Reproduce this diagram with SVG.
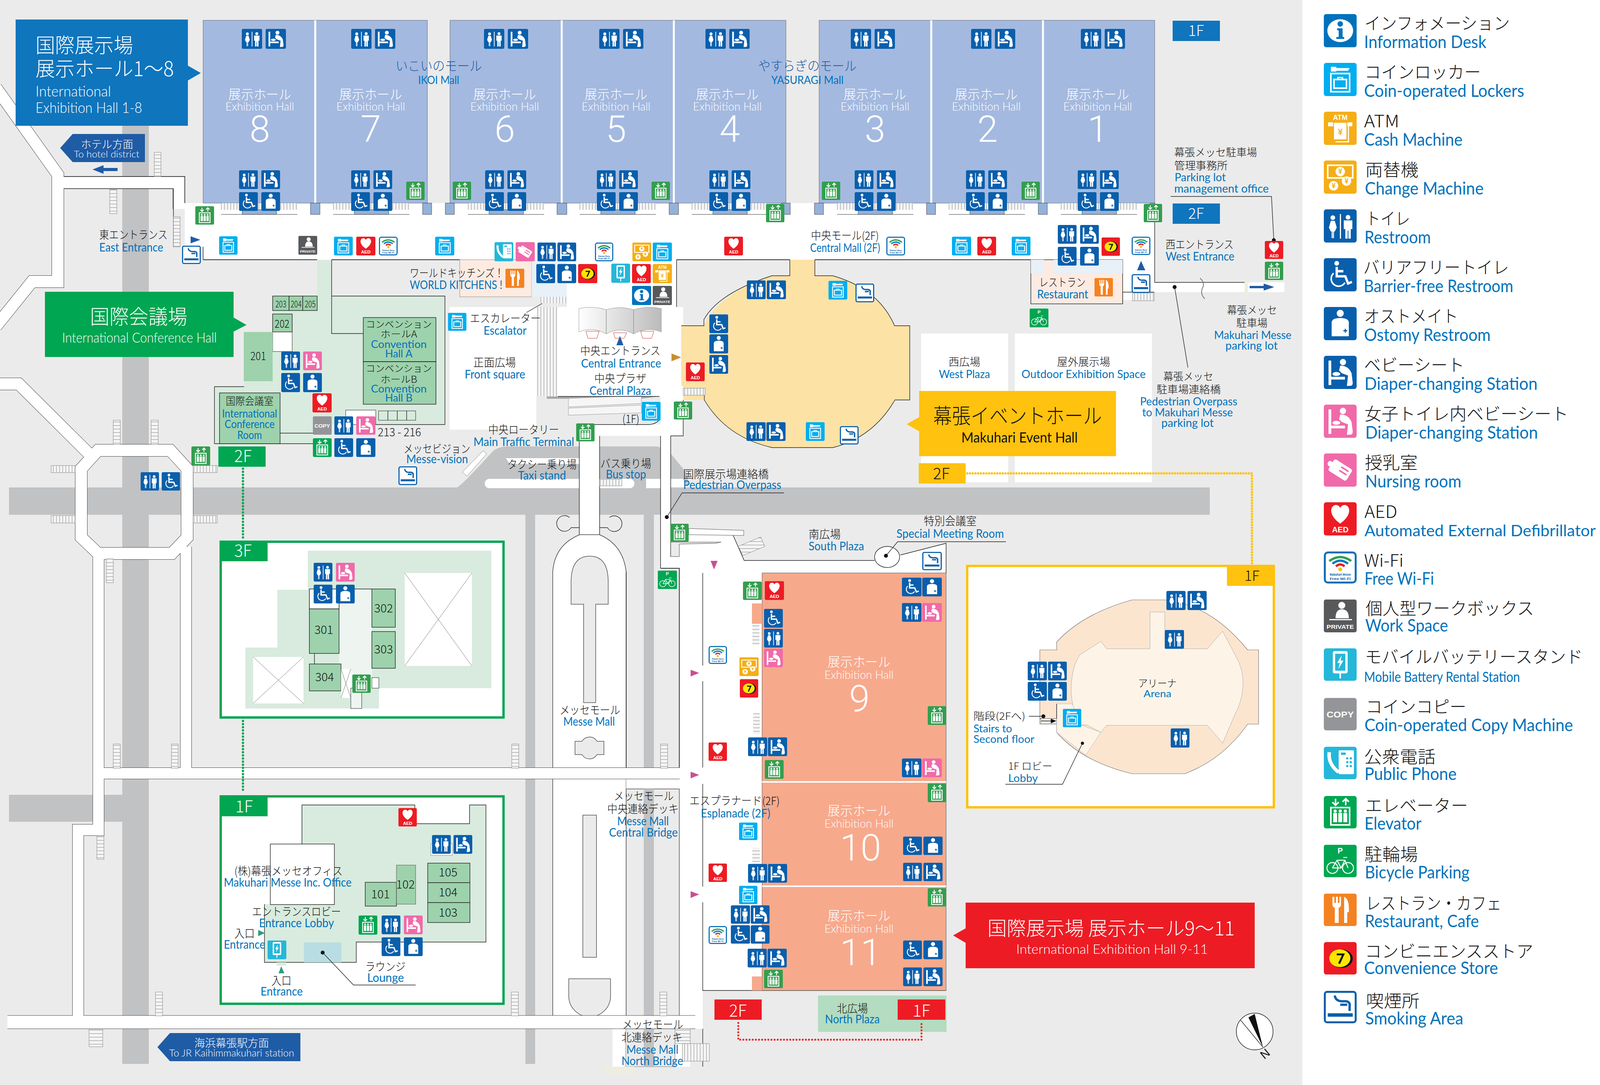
<svg xmlns="http://www.w3.org/2000/svg" width="4167" height="2778" viewBox="0 0 4167 2778">
<style>
svg{color:#339e4f}
text{font-family:"Noto Sans CJK JP","Noto Sans",sans-serif}
.j{fill:#111;font-weight:300}
.e{fill:#0072bc;font-family:"Lato","Noto Sans CJK JP",sans-serif}
.w{fill:#fff;font-weight:300}
.we{fill:#fff;font-family:"Lato","Noto Sans CJK JP",sans-serif;font-weight:300}
.n{font-family:"Roboto",sans-serif;font-weight:300;fill:#fff}
.m{text-anchor:middle}
.g{color:#00a651}
.hall{fill:#a4b9df;stroke:#667;stroke-width:1}
.pl{fill:#94b2d9;stroke:#445;stroke-width:1}
.lad{stroke:#999;stroke-width:1.2}
.sh{fill:url(#sh)}
.sv{fill:url(#sv)}
.room{fill:#9dd2ac;stroke:#222;stroke-width:1.4}
.ln{fill:none;stroke:#222;stroke-width:1.4}
.wall{fill:none;stroke:#333;stroke-width:2}
.rdo{fill:none;stroke:#444;stroke-linejoin:miter}
.rdw{fill:none;stroke:#fff;stroke-linejoin:miter}
.dot{fill:#111}
.x{stroke:#777;stroke-width:1;fill:none}
.dg{fill:none;stroke:#00a651;stroke-width:6;stroke-dasharray:0 8;stroke-linecap:round}
.dy{fill:none;stroke:#ffc20e;stroke-width:6;stroke-dasharray:0 7;stroke-linecap:round}
.dr{fill:none;stroke:#ed1c24;stroke-width:5;stroke-dasharray:0 8;stroke-linecap:round}
</style>
<defs>
<pattern id="sh" width="12" height="9" patternUnits="userSpaceOnUse"><rect width="12" height="9" fill="#f4f4f4"/><path d="M0 .5H12" stroke="#888" stroke-width="1"/></pattern>
<pattern id="sv" width="8" height="12" patternUnits="userSpaceOnUse"><rect width="8" height="12" fill="#f4f4f4"/><path d="M.5 0V12" stroke="#888" stroke-width="1"/></pattern>
<linearGradient id="cn" x1="0" x2="1"><stop offset="0" stop-color="#fff"/><stop offset="1" stop-color="#bbb"/></linearGradient>
<symbol id="wc" viewBox="0 0 84 84" preserveAspectRatio="none"><rect width="84" height="84" rx="6" fill="#0a5fac"/><g fill="#fff"><circle cx="23" cy="21" r="6"/><path d="M13 46 18 29H28L33 46 28 56H26V73H23.5V56H22.5V73H20V56H18Z"/><rect x="41" y="12" width="3" height="62"/><circle cx="62" cy="20" r="6"/><path d="M51 28H73V50H69V74H63V54H61V74H55V50H51Z"/></g></symbol>
<g id="bbg" fill="#fff"><path d="M12 12H19V53H54V60H19V74H12Z"/><path d="M42 25Q62 24 71 44L74 68Q74 76 68 76H59L62 50 46 44 39 37Z"/><ellipse cx="32" cy="46" rx="10" ry="5"/></g>
<symbol id="bb" viewBox="0 0 84 84" preserveAspectRatio="none"><rect width="84" height="84" rx="6" fill="#0a5fac"/><use href="#bbg"/><circle cx="49" cy="16" r="8" fill="#fff"/></symbol>
<symbol id="bp" viewBox="0 0 84 84" preserveAspectRatio="none"><rect width="84" height="84" rx="6" fill="#f06aa9"/><use href="#bbg"/><circle cx="49" cy="16" r="8" fill="#fff"/></symbol>
<symbol id="bf" viewBox="0 0 84 84" preserveAspectRatio="none"><rect width="84" height="84" rx="6" fill="#0a5fac"/><circle cx="33" cy="13" r="6" fill="#fff"/><path d="M33 22V46H55L62 64 72 60M33 33H50" fill="none" stroke="#fff" stroke-width="6"/><path d="M25 38A19 19 0 1 0 54 62" fill="none" stroke="#fff" stroke-width="4"/></symbol>
<symbol id="os" viewBox="0 0 84 84" preserveAspectRatio="none"><rect width="84" height="84" rx="6" fill="#0a5fac"/><circle cx="42" cy="16" r="9" fill="#fff"/><path d="M20 40Q20 28 42 28 64 28 64 40V74H20Z" fill="#fff"/><path d="M50 60H60M55 55V65" stroke="#0a5fac" stroke-width="3"/></symbol>
<symbol id="lk" viewBox="0 0 84 84" preserveAspectRatio="none"><rect width="84" height="84" rx="6" fill="#00aeef"/><path d="M18 10H32V22H18ZM32 13H66L62 20H32Z" fill="#fff"/><rect x="18" y="27" width="48" height="46" fill="none" stroke="#fff" stroke-width="4"/><rect x="26" y="42" width="32" height="22" fill="none" stroke="#fff" stroke-width="4"/><path d="M36 42V37H48V42" fill="none" stroke="#fff" stroke-width="3"/></symbol>
<symbol id="ae" viewBox="0 0 84 84" preserveAspectRatio="none"><rect width="84" height="84" rx="6" fill="#ed1c24"/><path d="M42 54C8 30 18 6 32 7 38 8 42 12 42 16 42 12 46 8 52 7 66 6 76 30 42 54Z" fill="#fff"/><text x="42" y="76" font-size="20" font-weight="700" fill="#fff" text-anchor="middle" style="font-family:'Liberation Sans',sans-serif">AED</text></symbol>
<symbol id="wf" viewBox="0 0 84 84" preserveAspectRatio="none"><rect x="2.500" y="2.500" width="79" height="79" rx="8" fill="#fff" stroke="#0a6fb8" stroke-width="5"/><g fill="none" stroke-width="6"><path d="M14 25Q42 4 70 25" stroke="#2e9e4f"/><path d="M22 32Q42 16 62 32" stroke="#0a7cc4"/><path d="M31 39Q42 29 53 39" stroke="#ed1c24"/></g><circle cx="42" cy="47" r="5" fill="#f9c20e"/><g font-size="8" font-weight="700" fill="#0a5fac" text-anchor="middle" style="font-family:'Liberation Sans',sans-serif"><text x="42" y="64" textLength="54" lengthAdjust="spacingAndGlyphs">Makuhari Messe</text><text x="42" y="75" textLength="54" lengthAdjust="spacingAndGlyphs">Free Wi-Fi</text></g></symbol>
<symbol id="pv" viewBox="0 0 84 84" preserveAspectRatio="none"><rect width="84" height="84" rx="5" fill="#58595b"/><circle cx="46" cy="15" r="9" fill="#fff"/><path d="M30 48Q30 25 46 25 64 25 64 48Z" fill="#fff"/><rect x="14" y="50" width="58" height="3" fill="#fff"/><text x="42" y="75" font-size="15" font-weight="700" fill="#fff" text-anchor="middle" textLength="70" lengthAdjust="spacingAndGlyphs" style="font-family:'Liberation Sans',sans-serif">PRIVATE</text></symbol>
<symbol id="bt" viewBox="0 0 84 84" preserveAspectRatio="none"><rect width="84" height="84" rx="6" fill="#25b7d9"/><rect x="23" y="7" width="38" height="58" rx="5" fill="#fff"/><rect x="29" y="14" width="26" height="44" fill="#25b7d9"/><path d="M46 18 34 38H41L37 54 50 32H43Z" fill="#fff"/><rect x="40" y="65" width="4" height="13" fill="#fff"/></symbol>
<symbol id="cp" viewBox="0 0 84 84" preserveAspectRatio="none"><rect width="84" height="84" rx="6" fill="#939598"/><text x="42" y="51" font-size="23" font-weight="700" fill="#fff" text-anchor="middle" textLength="70" lengthAdjust="spacingAndGlyphs" style="font-family:'Liberation Sans',sans-serif">COPY</text></symbol>
<symbol id="ph" viewBox="0 0 84 84" preserveAspectRatio="none"><rect width="84" height="84" rx="6" fill="#25b7d9"/><path d="M14 14Q10 44 38 66" fill="none" stroke="#fff" stroke-width="9"/><rect x="38" y="9" width="39" height="62" rx="3" fill="#fff"/><rect x="44" y="15" width="12" height="6" fill="#25b7d9"/><g fill="#25b7d9"><circle cx="60" cy="30" r="3"/><circle cx="69" cy="30" r="3"/><circle cx="60" cy="40" r="3"/><circle cx="69" cy="40" r="3"/><circle cx="60" cy="50" r="3"/><circle cx="69" cy="50" r="3"/></g></symbol>
<symbol id="el" viewBox="0 0 84 84" preserveAspectRatio="none"><rect width="84" height="84" rx="6" fill="currentColor"/><path d="M30 7V24M22 16 30 24 38 16M56 24V7M48 15 56 7 64 15" fill="none" stroke="#fff" stroke-width="4"/><rect x="18" y="30" width="48" height="45" fill="none" stroke="#fff" stroke-width="4"/><g fill="#fff"><rect x="24" y="44" width="10" height="24"/><rect x="37" y="44" width="10" height="24"/><rect x="50" y="44" width="10" height="24"/><circle cx="29" cy="39" r="4"/><circle cx="42" cy="39" r="4"/><circle cx="55" cy="39" r="4"/></g></symbol>
<symbol id="bk" viewBox="0 0 84 84" preserveAspectRatio="none"><rect width="84" height="84" rx="5" fill="#00a651"/><text x="42" y="22" font-size="20" font-weight="700" fill="#fff" text-anchor="middle" style="font-family:'Liberation Sans',sans-serif">P</text><g fill="none" stroke="#fff" stroke-width="2.500"><circle cx="22" cy="60" r="14"/><circle cx="62" cy="60" r="14"/><path d="M22 60 34 40H54L62 60M34 40 44 60H22M54 40 44 60M50 33H60"/></g></symbol>
<symbol id="rs" viewBox="0 0 84 84" preserveAspectRatio="none"><rect width="84" height="84" rx="5" fill="#f58220"/><path d="M22 8V28Q22 35 28 37V76H38V37Q44 35 44 28V8H40V24H36V8H31V24H27V8ZM52 76V8Q66 14 64 48H60V76Z" fill="#fff"/></symbol>
<symbol id="cv" viewBox="0 0 84 84" preserveAspectRatio="none"><rect width="84" height="84" rx="6" fill="#ed1c24"/><ellipse cx="45" cy="43" rx="29" ry="24" fill="#111"/><ellipse cx="41" cy="42" rx="27" ry="23" fill="#ffe600"/><path d="M33 32H50L39 56" fill="none" stroke="#111" stroke-width="5"/></symbol>
<symbol id="sm" viewBox="0 0 84 84" preserveAspectRatio="none"><rect x="2.500" y="2.500" width="79" height="79" rx="6" fill="#fff" stroke="#0a5fac" stroke-width="5"/><rect x="10" y="58" width="64" height="9" fill="#0a5fac"/><path d="M28 12Q30 27 48 27 68 25 66 38V52M42 36H60" fill="none" stroke="#0a5fac" stroke-width="6"/></symbol>
<symbol id="in" viewBox="0 0 84 84" preserveAspectRatio="none"><rect width="84" height="84" rx="6" fill="#0072bc"/><ellipse cx="42" cy="42" rx="33" ry="29" fill="#fff"/><circle cx="42" cy="25" r="7" fill="#0072bc"/><path d="M34 36H48V58H52V63H32V58H38V41H34Z" fill="#0072bc"/></symbol>
<symbol id="at" viewBox="0 0 84 84" preserveAspectRatio="none"><rect width="84" height="84" rx="6" fill="#f5ae16"/><text x="42" y="21" font-size="18" font-weight="700" fill="#fff" text-anchor="middle" style="font-family:'Liberation Sans',sans-serif">ATM</text><rect x="11" y="27" width="62" height="10" fill="#fff"/><rect x="25" y="27" width="34" height="44" fill="#fff" stroke="#f5ae16" stroke-width="2"/><text x="42" y="58" font-size="22" font-weight="700" fill="#f5ae16" text-anchor="middle" style="font-family:'Liberation Sans',sans-serif">¥</text><path d="M63 37V76H30" fill="none" stroke="#fff" stroke-width="3"/></symbol>
<symbol id="ch" viewBox="0 0 84 84" preserveAspectRatio="none"><rect width="84" height="84" rx="6" fill="#f5ae16"/><rect x="10" y="12" width="64" height="32" fill="none" stroke="#fff" stroke-width="4"/><g fill="#fff"><circle cx="42" cy="28" r="12"/><circle cx="25" cy="64" r="12"/><circle cx="58" cy="52" r="12"/></g><g font-size="18" font-weight="700" fill="#f5ae16" text-anchor="middle" style="font-family:'Liberation Sans',sans-serif"><text x="42" y="34">¥</text><text x="25" y="70">¥</text><text x="58" y="58">¥</text></g></symbol>
<symbol id="nr" viewBox="0 0 84 84" preserveAspectRatio="none"><rect width="84" height="84" rx="6" fill="#f06aa9"/><g transform="rotate(32 42 42)"><rect x="15" y="25" width="54" height="34" rx="5" fill="#fff"/><rect x="40" y="32" width="22" height="4" fill="#f06aa9"/><rect x="40" y="42" width="22" height="4" fill="#f06aa9"/><circle cx="12" cy="42" r="7" fill="#fff"/></g></symbol>
<g id="quad"><use href="#wc" width="48" height="48"/><use href="#bb" x="57" width="48" height="48"/><use href="#bf" y="56" width="48" height="48"/><use href="#os" x="57" y="56" width="48" height="48"/></g>
<g id="quadp"><use href="#wc" width="48" height="48"/><use href="#bp" x="57" width="48" height="48"/><use href="#bf" y="56" width="48" height="48"/><use href="#os" x="57" y="56" width="48" height="48"/></g>
<g id="top"><use href="#wc" width="52" height="51"/><use href="#bb" x="61" width="52" height="51"/></g>
<g id="pair"><use href="#wc" width="49" height="48"/><use href="#bb" x="51" width="49" height="48"/></g>
<g id="hs"><rect class="sv" y="520" width="195" height="17"/><rect x="54" y="537" width="88" height="12" fill="#94b2d9" stroke="#445"/><path d="M0 549H195" stroke="#777" stroke-width="1.500"/></g>
<path id="r30" d="M-10 225 148 447V721H82L-10 835M148 467H458V535M-10 983H48L226 1160M251 1153H436L479 1200V1376L440 1417H251L208 1376V1200Z"/>
<path id="r28" d="M252 1417V2125H200V2601M476 1400V1980M252 1980H1740"/>
</defs>

<rect width="4167" height="2778" fill="#fff"/>
<rect width="3334" height="2778" fill="#ebebeb"/>

<g id="roads" fill="#c1c2c4">
<rect x="313" y="300" width="68" height="2424"/>
<rect x="23" y="1248" width="3074" height="70"/>
<rect x="1345" y="1318" width="25" height="1406"/>
<rect x="1648" y="1318" width="26" height="1413"/>
<rect x="23" y="2035" width="290" height="69"/>
<path d="M1170 1248Q1185 1240 1262 1155 1277 1143 1300 1143H1680Q1695 1145 1717 1161L1761 1215V1248Z"/>
</g>
<g id="lanes" fill="#fff">
<rect x="1241" y="1226" width="383" height="24" rx="12"/>
<rect x="1654" y="1226" width="37" height="24"/>
<path d="M1717 1226H1748L1761 1248H1717Z"/>
<path d="M1295 1173H1483V1188H1305Z"/>
<path d="M1237 1154 1246 1162 1196 1219 1183 1209Z" stroke="#888"/>
</g>

<g id="plazas" fill="#fff">
<rect x="2358" y="854" width="223" height="381"/>
<rect x="2598" y="854" width="351" height="381"/>
<rect x="1151" y="786" width="222" height="314"/>
<rect x="1451" y="665" width="281" height="121"/>
<rect x="1427" y="786" width="322" height="229"/>
<rect x="1691" y="1015" width="58" height="101"/>
<rect x="1483" y="1087" width="266" height="29"/>
<rect x="1483" y="1116" width="52" height="253"/>
<rect x="1691" y="1116" width="26" height="340"/>
<path d="M1415 2617V1464Q1420 1395 1484 1369H1535Q1595 1395 1603 1464V2617Z" stroke="#444" stroke-width="1.500"/>
<path d="M1691 1425H1717V1353L1904 1358V1371H1877L1905 1435H2239L2305 1421 2422 1391V1467H1951V2536H1799V2634H1767V2731H1568V2601H1739V1455H1691Z"/>
<rect x="1603" y="1967" width="136" height="53"/>
</g>
<rect x="1602" y="2634" width="126" height="97" fill="#ebebeb" stroke="#777"/>
<rect x="1648" y="2634" width="26" height="97" fill="#c1c2c4"/>
<rect x="1546" y="2731" width="79" height="18" fill="#eeeee0"/>
<path d="M1603 1464V1967H1739V1455H1691" class="wall" stroke-width="1.500"/>
<rect x="1603" y="2020" width="136" height="581" fill="#ebebeb" stroke="#555" stroke-width="1.500"/>
<rect x="1648" y="2020" width="26" height="581" fill="#c1c2c4"/>
<g id="messe-islands" fill="#ebebeb" stroke="#555" stroke-width="1.500">
<path d="M1494 1799V1547H1462V1490Q1462 1424 1510 1424 1557 1424 1557 1490V1547H1525V1799Z"/>
<path d="M1472 1898H1490Q1496 1887 1510 1887 1522 1887 1528 1898H1546V1932H1528Q1522 1943 1510 1943 1496 1943 1490 1932H1472Z"/>
<rect x="1492" y="2087" width="35" height="364"/>
<path d="M1456 2506H1563V2550A53 53 0 0 1 1456 2550Z"/>
</g>
<path d="M1484 1351H1462A20 20 0 1 1 1458 1325M1535 1351H1555A20 20 0 1 0 1560 1325" class="ln"/>
<path d="M1535 1116V1369M1483 1116V1369M1691 1116V1455M1717 1116V1425" class="ln"/>
<path d="M1483 1087H1526Q1650 1087 1663 1087 1680 1085 1688 1075" class="ln"/>
<path d="M1717 1116H1749V1024" class="ln"/>
<path d="M1400 1015H1688L1640 1021H1400Z" fill="#a8a8a8"/>
<path d="M1455 1020 1642 1013V1033L1455 1042ZM1455 1045 1642 1037V1057L1455 1063Z" fill="#f6f6f6" stroke="#999"/>

<g id="bridges">
<use href="#r30" class="rdo" stroke-width="32"/>
<use href="#r28" class="rdo" stroke-width="30"/>
<path d="M19 2617H1780" class="rdo" stroke-width="35"/>
<use href="#r30" class="rdw" stroke-width="30"/>
<use href="#r28" class="rdw" stroke-width="28"/>
<path d="M19 2617H1799" class="rdw" stroke-width="33"/>
<path d="M1799 2634V2731" class="ln"/>
</g>
<path d="M1739 1393V1425H1717V1388H1846L1832 1391Z" fill="#ebebeb" stroke="#444"/>
<path d="M1763 1353 1904 1358V1371L1763 1369Z" fill="#fff" stroke="#555"/>
<path d="M1877 1371 1905 1435H2239M2305 1421 2422 1391V1467" class="ln"/>
<ellipse cx="2271" cy="1426" rx="32" ry="27" fill="#fff" stroke="#222" stroke-width="1.400"/>
<path d="M1799 1467V1704M1799 1744V1965M1799 2007V2270M1799 2310V2536H2422" class="ln"/>

<g id="mall">
<path d="M163 452H473V520H2956V723H3288V748H2956V768H2874V665H520V632H473V483H163Z" fill="#fff"/>
<path d="M163 452H473V520M444 483V632M163 483H444M520 665V632M2956 520V723H3186M2955 748H2874V778" class="ln"/>
<path d="M520 665H812M849 665H1177M1732 665H2022M2086 665H2638" class="wall" stroke-width="3"/>
<path d="M1732 665V786" class="ln"/>
<path d="M3072 712Q3086 725 3078 738 3072 752 3084 765" fill="none" stroke="#777" stroke-width="2"/>
<rect x="3186" y="709" width="9" height="55" fill="#eeeee0"/>
</g>

<g id="halls1-8">
<rect class="hall" x="520" y="52" width="287" height="468"/>
<rect class="hall" x="807" y="52" width="287" height="468"/>
<rect class="hall" x="1152" y="52" width="286" height="468"/>
<rect class="hall" x="1438" y="52" width="287" height="468"/>
<rect class="hall" x="1725" y="52" width="287" height="468"/>
<rect class="hall" x="2097" y="52" width="287" height="468"/>
<rect class="hall" x="2384" y="52" width="286" height="468"/>
<rect class="hall" x="2670" y="52" width="286" height="468"/>
<path d="M807 52V520M1438 52V520M1725 52V520M2384 52V520M2670 52V520" stroke="#fff" stroke-width="5"/>
<rect class="pl" x="795" y="520" width="24" height="29"/><rect class="pl" x="1082" y="520" width="23" height="29"/><rect class="pl" x="1140" y="520" width="23" height="29"/><rect class="pl" x="1426" y="520" width="25" height="29"/><rect class="pl" x="1713" y="520" width="24" height="29"/><rect class="pl" x="2000" y="520" width="23" height="29"/><rect class="pl" x="2085" y="520" width="23" height="29"/><rect class="pl" x="2372" y="520" width="23" height="29"/><rect class="pl" x="2658" y="520" width="23" height="29"/><rect class="pl" x="2944" y="520" width="13" height="29"/>
<use href="#hs" x="566"/><use href="#hs" x="853"/><use href="#hs" x="1198"/><use href="#hs" x="1484"/><use href="#hs" x="1771"/><use href="#hs" x="2143"/><use href="#hs" x="2429"/><use href="#hs" x="2716"/>
</g>

<g id="restaurants">
<rect x="1177" y="665" width="184" height="95" fill="#fdebe2" stroke="#888"/>
<rect x="1361" y="665" width="90" height="95" fill="#e8f0f8"/>
<rect class="sv" x="1382" y="760" width="69" height="17"/>
<rect x="2639" y="665" width="235" height="113" fill="#fdeae1" stroke="#333" stroke-width="1.500"/>
<rect x="2639" y="665" width="34" height="35" fill="#e8f0f8"/>
<rect x="2697" y="665" width="177" height="35" fill="#e8f0f8"/>
</g>

<g id="event-hall">
<path d="M2022 665H2086V706H2132Q2250 740 2290 834H2329V1024H2291Q2235 1120 2132 1146H1977Q1860 1120 1803 1024H1749V989H1744V834H1802Q1840 750 1976 706H2022Z" fill="#fde2a6"/>
<path d="M2022 665V706H1976Q1840 750 1802 818V834H1744M2086 665V706H2132Q2250 740 2290 834H2329V1024H2291Q2235 1120 2132 1146H1977Q1860 1120 1803 1024V994" class="ln"/>
<rect class="sv" x="1749" y="994" width="56" height="18" stroke="#888"/>
<path d="M1719 905 1744 915 1719 925Z" fill="#c98f2d"/>
</g>

<g id="entrance">
<path d="M1482 790Q1517 782 1552 793V855Q1517 835 1482 850Z M1552 793Q1587 782 1622 793V855Q1587 835 1552 855Z M1622 793Q1657 782 1693 790V850Q1657 835 1622 855Z" fill="url(#cn)" stroke="#999"/>
<path d="M1500 848H1534L1528 866H1505ZM1570 852H1604L1598 866H1575ZM1640 848H1674L1668 866H1645Z" fill="#fff" stroke="#c33"/>
<path d="M1587 860 1596 884H1578Z" fill="#1f5ca6"/>
<path d="M1428 1015H1688" class="ln"/>
<rect class="sv" x="1373" y="786" width="54" height="229"/>
<path d="M1348 800 1388 777" class="ln"/>
</g>

<g id="conference">
<path d="M812 666H849V758H1139V1087H801V1136H549V990H625V850H698V758H812Z" fill="#d8ebde"/>
<path d="M849 665V854H930M849 758H1139V1087H962M625 990H549V1136H801M717 1109H801" class="ln"/>
<rect x="885" y="1050" width="77" height="37" fill="#fff" stroke="#222"/>
<rect x="969" y="1052" width="95" height="24" fill="none" stroke="#222"/>
<path d="M993 1052V1076M1017 1052V1076M1041 1052V1076" class="ln"/>
<rect class="room" x="698" y="758" width="42" height="37"/><rect class="room" x="740" y="758" width="35" height="37"/><rect class="room" x="775" y="758" width="37" height="37"/>
<rect class="room" x="698" y="804" width="50" height="46"/>
<rect x="698" y="850" width="50" height="50" fill="#fff" stroke="#222"/>
<rect x="624" y="850" width="74" height="126" fill="#9dd2ac"/>
<rect class="room" x="930" y="813" width="186" height="113"/>
<rect class="room" x="930" y="926" width="186" height="109"/>
<path d="M930 926H1116" stroke="#222" stroke-width="1.500" stroke-dasharray="2 2"/>
<rect class="room" x="562" y="1006" width="155" height="130"/>
<rect x="559" y="1143" width="121" height="52" fill="#00a651"/>
<path class="dg" d="M622 1200V1381M622 1846V2027"/>
</g>

<g id="floor-3f">
<rect x="565" y="1387" width="724" height="450" fill="#fff" stroke="#00a651" stroke-width="6"/>
<path d="M788 1410H1258V1762H970V1814H628V1658H710V1510H788Z" fill="#d8ebde"/>
<rect x="868" y="1508" width="84" height="254" fill="#eef5f1"/>
<path d="M868 1508H952" class="ln"/>
<rect x="792" y="1508" width="76" height="51" fill="#fff" stroke="#222" stroke-width="1.500"/>
<rect class="room" x="952" y="1508" width="60" height="98"/><rect class="room" x="952" y="1617" width="60" height="94"/>
<rect class="room" x="792" y="1559" width="76" height="114"/><rect class="room" x="792" y="1700" width="81" height="69"/>
<path d="M805 1673V1700" class="ln"/>
<rect x="1036" y="1467" width="172" height="238" fill="#fff"/><path d="M1036 1467 1208 1705M1208 1467 1036 1705" class="x"/>
<rect x="648" y="1682" width="129" height="119" fill="#fff"/><path d="M648 1682 777 1801M777 1682 648 1801" class="x"/>
<rect x="873" y="1713" width="25" height="74" fill="#fff"/><path d="M873 1713 898 1787M898 1713 873 1787" class="x"/>
<rect x="898" y="1762" width="28" height="52" fill="#eef5f1" stroke="#222"/>
<rect x="952" y="1735" width="18" height="27" fill="#fff" stroke="#222"/>
<rect x="562" y="1384" width="123" height="53" fill="#00a651"/>
</g>

<g id="floor-1f">
<rect x="565" y="2039" width="724" height="531" fill="#fff" stroke="#00a651" stroke-width="6"/>
<path d="M773 2061H1062V2109H1202V2061H1244V2412H912V2464H677V2315H773Z" fill="#d8ebde"/>
<path d="M773 2161V2061H1062V2109H1202V2061H1244V2412H912V2464H677V2315" class="ln" stroke-width="1"/>
<rect x="692" y="2161" width="164" height="155" fill="#fff" stroke="#222" stroke-width="1.400"/>
<rect x="778" y="2413" width="96" height="51" fill="#b8dde2"/>
<rect x="1103" y="2160" width="55" height="30" fill="#fff" stroke="#888"/>
<rect class="room" x="935" y="2259" width="80" height="61"/><rect x="1015" y="2215" width="49" height="100" fill="#9dd2ac" stroke="#555"/>
<rect class="room" x="1095" y="2210" width="108" height="50"/><rect class="room" x="1095" y="2260" width="108" height="51"/><rect class="room" x="1095" y="2311" width="108" height="51"/>
<rect x="708" y="2464" width="25" height="8" fill="#d8ebde"/>
<circle class="dot" cx="826" cy="2439" r="5"/><path d="M826 2439 905 2522H1064" class="ln"/>
<path d="M661 2381 678 2389 661 2397ZM720 2474 728 2492H713Z" fill="#2e9e78"/>
<rect x="562" y="2036" width="123" height="54" fill="#00a651"/>
</g>

<g id="hall9-11">
<rect x="1951" y="1467" width="471" height="1069" fill="#f7a98c" stroke="#555"/>
<rect x="1925" y="1545" width="26" height="52" fill="#f7a98c"/>
<rect x="1925" y="2500" width="26" height="36" fill="#f7a98c"/>
<path d="M1951 2002H2422M1951 2269H2422" stroke="#fff" stroke-width="4"/>
<rect class="sh" x="1926" y="1597" width="18" height="55"/><rect class="sh" x="1928" y="1826" width="17" height="54"/><rect class="sh" x="1926" y="2170" width="19" height="42"/>
<path d="M1819 1436H1837L1828 1458ZM1768 1715 1790 1723 1768 1732ZM1768 1976 1790 1984 1768 1993ZM1768 2282 1790 2290 1768 2299Z" fill="#c94f93"/>
</g>

<g id="ladders" class="lad">
<rect class="sh" x="395" y="390" width="17" height="62"/><rect class="sh" x="281" y="485" width="18" height="62"/><rect class="sh" x="444" y="555" width="17" height="77"/>
<rect class="sh" x="290" y="1076" width="18" height="62"/><rect class="sh" x="387" y="1076" width="18" height="62"/>
<rect class="sv" x="131" y="1192" width="61" height="18"/><rect class="sv" x="494" y="1192" width="62" height="18"/><rect class="sv" x="131" y="1320" width="61" height="19"/><rect class="sv" x="494" y="1320" width="62" height="19"/>
<rect class="sh" x="272" y="1431" width="18" height="61"/>
<rect class="sh" x="290" y="1905" width="18" height="62"/><rect class="sh" x="439" y="1905" width="17" height="62"/><rect class="sh" x="1310" y="1905" width="18" height="62"/>
<rect class="sh" x="248" y="2140" width="18" height="60"/>
<rect class="sh" x="398" y="2540" width="18" height="61"/><rect class="sh" x="1309" y="2540" width="18" height="61"/>
<rect class="sh" x="228" y="2635" width="35" height="45"/>
<rect class="sh" x="1691" y="1905" width="18" height="62"/><rect class="sh" x="1689" y="2540" width="18" height="61"/>
<rect class="sh" x="1728" y="2634" width="39" height="38"/><rect class="sv" x="1747" y="2672" width="69" height="45"/>
<rect class="sv" x="1535" y="1227" width="57" height="17"/>
<path class="sh" d="M1890 1399 1947 1375 1958 1399 1902 1422Z"/>
<rect class="sv" x="2899" y="750" width="56" height="20"/>
</g>

<g id="arena">
<rect x="2476" y="1449" width="785" height="618" fill="#fff" stroke="#ffc20e" stroke-width="6"/>
<path d="M2662 1664H2705V1644Q2770 1572 2898 1536H2982Q3100 1548 3194 1664H3222V1854H3194Q3130 1945 3033 1981H2898Q2770 1950 2705 1875V1854H2662Z" fill="#fce5cf" stroke="#777" stroke-width="1.200"/>
<path d="M2818 1642 2833 1661H2944V1567H2982V1661H3091L3130 1616 3162 1677Q3185 1715 3182 1757 3180 1795 3162 1828L3130 1903 3091 1857H2833L2818 1875 2782 1856H2764Q2745 1820 2742 1771 2742 1710 2764 1677Z" fill="#fdf4e7" stroke="#aaa"/>
<path d="M2705 1802H2745L2767 1856 2818 1875 2780 1933 2705 1875Z" fill="#fdf4e7" stroke="#aaa" stroke-width=".8"/>
<path d="M2662 1840H2705V1802" class="ln" stroke-width="1"/>
<rect class="sh lad" x="2665" y="1840" width="40" height="13"/>
<rect x="3141" y="1446" width="123" height="54" fill="#ffc20e"/>
<path d="M2665 1846H2700" class="ln"/><path d="M2690 1840 2704 1846 2690 1852Z" fill="#111"/>
<circle class="dot" cx="2671" cy="1834" r="5"/><path d="M2634 1834H2671" class="ln"/>
<circle class="dot" cx="2771" cy="1903" r="4"/><path d="M2771 1903 2720 2008H2574" class="ln"/>
</g>

<g id="event-labels">
<path d="M2353 1001H2857V1168H2353V1104L2321 1086 2353 1068Z" fill="#ffc20e"/>
<rect x="2352" y="1186" width="120" height="52" fill="#ffc20e"/>
<path class="dy" d="M2476 1212H3205V1445"/>
</g>

<g id="banners">
<path d="M40 50H481V168L514 187 481 206V322H40Z" fill="#0f75bd"/>
<path d="M186 343H371V415H186L154 379Z" fill="#1f5ca6"/>
<path d="M115 747H598V813L631 832 598 849V914H115Z" fill="#00a651"/>
<path d="M435 2645H769V2717H435L403 2681Z" fill="#1f5ca6"/>
<path d="M2472 2311H3212V2479H2472V2414L2440 2395 2472 2377Z" fill="#ed1c24"/>
<path d="M301 434H265" stroke="#1f5ca6" stroke-width="8"/><path d="M237 434 265 423V445Z" fill="#1f5ca6"/>
<path d="M3199 735H3240" stroke="#1f5ca6" stroke-width="6"/><path d="M3262 735 3235 726V744Z" fill="#1f5ca6"/>
<path d="M488 605 513 614 488 623ZM2921 668 2932 692H2911Z" fill="#1f5ca6"/>
<rect x="3002" y="53" width="121" height="52" fill="#0f75bd"/><rect x="3002" y="521" width="121" height="52" fill="#0f75bd"/>
<rect x="2094" y="2549" width="329" height="93" fill="#b3dcc0"/>
<rect x="1829" y="2559" width="121" height="52" fill="#ed1c24"/><rect x="2298" y="2559" width="122" height="52" fill="#ed1c24"/>
<path class="dr" d="M1890 2619V2662H2359V2616"/>
</g>

<g id="leaders">
<path d="M2007 1262H1746L1707 1324" class="ln"/><circle class="dot" cx="1707" cy="1324" r="5"/>
<path d="M2575 1387H2298L2268 1423" class="ln"/><circle class="dot" cx="2268" cy="1423" r="5"/>
<path d="M2997 503H3255L3261 615" class="ln"/><circle class="dot" cx="3261" cy="615" r="5"/>
<path d="M3007 735 3041 941" class="ln"/><circle class="dot" cx="3007" cy="735" r="5"/>
</g>

<g id="compass">
<circle cx="3212" cy="2641" r="47" fill="#fff" stroke="#222" stroke-width="1.500"/>
<path d="M3212 2596 3233 2681 3196 2605Z" fill="#111"/>
<path d="M3176 2612 3233 2681" class="ln"/>
<text x="3240" y="2708" font-size="30" fill="#111" transform="rotate(-40 3240 2700)" class="m" style="font-family:'Liberation Sans',sans-serif">N</text>
</g>

<g id="map-icons">
<use href="#top" x="619" y="74"/><use href="#top" x="899" y="74"/><use href="#top" x="1239" y="74"/><use href="#top" x="1534" y="74"/><use href="#top" x="1806" y="74"/><use href="#top" x="2178" y="74"/><use href="#top" x="2486" y="74"/><use href="#top" x="2767" y="74"/>
<use href="#quad" x="612" y="436"/><use href="#quad" x="899" y="436"/><use href="#quad" x="1242" y="436"/><use href="#quad" x="1528" y="436"/><use href="#quad" x="1816" y="436"/><use href="#quad" x="2188" y="436"/><use href="#quad" x="2473" y="436"/><use href="#quad" x="2759" y="436"/>
<use href="#el" x="1040" y="465" width="47" height="47"/><use href="#el" x="1159" y="465" width="47" height="47"/><use href="#el" x="500" y="528" width="48" height="47"/><use href="#el" x="1668" y="465" width="47" height="47"/><use href="#el" x="1961" y="522" width="47" height="47"/><use href="#el" x="2104" y="465" width="47" height="47"/><use href="#el" x="2615" y="465" width="47" height="47"/><use href="#el" x="2928" y="522" width="47" height="47"/>
<use href="#sm" x="466" y="629" width="48" height="47"/><use href="#lk" x="561" y="605" width="47" height="47"/><use href="#pv" x="764" y="604" width="48" height="48"/><use href="#lk" x="855" y="606" width="48" height="48"/><use href="#ae" x="912" y="606" width="49" height="48"/><use href="#wf" x="970" y="606" width="48" height="48"/><use href="#lk" x="1114" y="606" width="49" height="48"/>
<use href="#ph" x="1266" y="620" width="48" height="49"/><use href="#nr" x="1320" y="620" width="49" height="49"/><use href="#wc" x="1376" y="621" width="47" height="48"/><use href="#bb" x="1427" y="621" width="48" height="48"/><use href="#bf" x="1373" y="676" width="48" height="49"/><use href="#os" x="1427" y="676" width="48" height="49"/><use href="#cv" x="1480" y="676" width="49" height="49"/><use href="#rs" x="1294" y="688" width="48" height="49"/>
<use href="#wf" x="1523" y="621" width="47" height="48"/><use href="#ch" x="1619" y="621" width="48" height="48"/><use href="#lk" x="1671" y="621" width="49" height="48"/><use href="#bt" x="1565" y="675" width="48" height="49"/><use href="#ae" x="1618" y="676" width="48" height="49"/><use href="#at" x="1671" y="676" width="49" height="49"/><use href="#in" x="1618" y="732" width="49" height="49"/><use href="#pv" x="1671" y="732" width="49" height="49"/>
<use href="#ae" x="1854" y="606" width="48" height="48"/><use href="#wf" x="2269" y="606" width="48" height="48"/><use href="#lk" x="2437" y="606" width="49" height="48"/><use href="#ae" x="2502" y="606" width="48" height="48"/><use href="#lk" x="2590" y="606" width="48" height="48"/>
<use href="#quad" x="2708" y="576"/><use href="#cv" x="2820" y="608" width="47" height="47"/><use href="#wf" x="2897" y="606" width="48" height="47"/><use href="#sm" x="2897" y="702" width="48" height="48"/><use href="#rs" x="2802" y="712" width="47" height="47"/><use href="#bk" x="2636" y="790" width="48" height="48"/><use href="#ae" x="3238" y="617" width="47" height="46"/><use href="#el" x="3238" y="670" width="47" height="47"/>
<use href="#wc" x="1912" y="718" width="48" height="48"/><use href="#bb" x="1963" y="718" width="49" height="48"/><use href="#lk" x="2121" y="719" width="48" height="48"/><use href="#sm" x="2190" y="726" width="48" height="48"/><use href="#bf" x="1816" y="805" width="48" height="48"/><use href="#os" x="1816" y="856" width="48" height="49"/><use href="#bb" x="1816" y="909" width="48" height="48"/><use href="#ae" x="1756" y="928" width="48" height="48"/>
<use href="#pair" x="1911" y="1081"/><use href="#lk" x="2063" y="1081" width="48" height="48"/><use href="#sm" x="2150" y="1091" width="48" height="47"/>
<use href="#el" x="1475" y="1084" width="47" height="46"/><use href="#el" x="1725" y="1028" width="47" height="46"/><use href="#el" x="1716" y="1341" width="47" height="46"/><use href="#lk" x="1643" y="1029" width="48" height="48"/><use href="#bk" x="1684" y="1461" width="49" height="47"/>
<use href="#el" x="1902" y="1489" width="48" height="47"/><use href="#ae" x="1958" y="1488" width="49" height="48"/><use href="#bf" x="1956" y="1559" width="48" height="48"/><use href="#wc" x="1956" y="1610" width="48" height="48"/><use href="#bp" x="1956" y="1661" width="48" height="47"/><use href="#ch" x="1893" y="1683" width="49" height="48"/><use href="#cv" x="1894" y="1739" width="47" height="47"/><use href="#wf" x="1814" y="1654" width="47" height="46"/>
<use href="#bf" x="2309" y="1479" width="50" height="48"/><use href="#os" x="2361" y="1479" width="50" height="48"/><use href="#wc" x="2309" y="1544" width="50" height="48"/><use href="#bp" x="2361" y="1544" width="50" height="48"/><use href="#el" x="2375" y="1808" width="47" height="48"/>
<use href="#ae" x="1814" y="1901" width="47" height="47"/><use href="#pair" x="1915" y="1888"/><use href="#el" x="1958" y="1946" width="48" height="48"/><use href="#wc" x="2309" y="1942" width="50" height="48"/><use href="#bp" x="2361" y="1942" width="50" height="48"/><use href="#el" x="2375" y="2006" width="47" height="48"/>
<use href="#lk" x="1892" y="2106" width="47" height="45"/><use href="#bf" x="2312" y="2142" width="48" height="47"/><use href="#os" x="2364" y="2142" width="49" height="47"/><use href="#wc" x="2312" y="2209" width="48" height="47"/><use href="#bb" x="2364" y="2209" width="49" height="47"/><use href="#ae" x="1814" y="2211" width="47" height="47"/><use href="#pair" x="1915" y="2212"/><use href="#lk" x="1892" y="2268" width="47" height="47"/><use href="#el" x="2375" y="2274" width="47" height="47"/>
<use href="#wc" x="1871" y="2318" width="49" height="47"/><use href="#bb" x="1922" y="2318" width="48" height="47"/><use href="#wf" x="1814" y="2371" width="47" height="46"/><use href="#bf" x="1871" y="2369" width="49" height="47"/><use href="#os" x="1922" y="2369" width="48" height="47"/><use href="#pair" x="1914" y="2429"/><use href="#el" x="1956" y="2483" width="48" height="47"/>
<use href="#bf" x="2312" y="2408" width="48" height="48"/><use href="#os" x="2364" y="2408" width="49" height="48"/><use href="#wc" x="2312" y="2477" width="48" height="48"/><use href="#bb" x="2364" y="2477" width="49" height="48"/>
<use href="#wc" x="720" y="900" width="48" height="48"/><use href="#bp" x="776" y="900" width="48" height="48"/><use href="#bf" x="720" y="955" width="48" height="49"/><use href="#os" x="776" y="955" width="48" height="49"/><use href="#ae" x="800" y="1007" width="49" height="49"/><use href="#cp" x="801" y="1066" width="48" height="47"/><use href="#wc" x="856" y="1066" width="48" height="47"/><use href="#bp" x="912" y="1066" width="49" height="47"/><use href="#el" class="g" x="801" y="1122" width="48" height="48"/><use href="#bf" x="856" y="1122" width="48" height="48"/><use href="#os" x="912" y="1122" width="49" height="48"/>
<use href="#el" x="490" y="1143" width="48" height="49"/><use href="#wc" x="360" y="1209" width="47" height="47"/><use href="#bf" x="414" y="1209" width="47" height="47"/><use href="#sm" x="1020" y="1194" width="48" height="48"/><use href="#lk" x="1147" y="801" width="47" height="46"/>
<use href="#quadp" x="803" y="1441"/><use href="#el" x="902" y="1727" width="47" height="47"/>
<use href="#ae" x="1020" y="2069" width="47" height="47"/><use href="#wc" x="1106" y="2138" width="48" height="48"/><use href="#bb" x="1161" y="2138" width="48" height="48"/><use href="#el" class="g" x="918" y="2344" width="48" height="49"/><use href="#quadp" x="977" y="2344"/><use href="#bt" x="685" y="2408" width="48" height="48"/>
<use href="#wc" x="2986" y="1513" width="49" height="49"/><use href="#bb" x="3040" y="1513" width="49" height="49"/><use href="#wc" x="2982" y="1613" width="49" height="48"/><use href="#wc" x="2631" y="1694" width="49" height="48"/><use href="#bb" x="2683" y="1694" width="48" height="48"/><use href="#bf" x="2631" y="1746" width="49" height="48"/><use href="#os" x="2683" y="1746" width="48" height="48"/><use href="#lk" x="2721" y="1815" width="47" height="47"/><use href="#wc" x="2997" y="1865" width="48" height="49"/>
<use href="#sm" x="2361" y="1413" width="50" height="47"/>
</g>

<g id="map-text">
<g font-size="52"><text class="w" x="91" y="135" textLength="250" lengthAdjust="spacingAndGlyphs">国際展示場</text><text class="w" x="91" y="195" textLength="354" lengthAdjust="spacingAndGlyphs">展示ホール1〜8</text></g>
<g font-size="38"><text class="we" x="91" y="247" textLength="193" lengthAdjust="spacingAndGlyphs">International</text><text class="we" x="91" y="289" textLength="273" lengthAdjust="spacingAndGlyphs">Exhibition Hall 1-8</text></g>
<text class="w m" x="274" y="380" font-size="28" textLength="134" lengthAdjust="spacingAndGlyphs">ホテル方面</text><text class="we m" x="273" y="403" font-size="23" textLength="168" lengthAdjust="spacingAndGlyphs">To hotel district</text>

<g class="hl"><text class="w m" x="665" y="254" font-size="34" textLength="161" lengthAdjust="spacingAndGlyphs">展示ホール</text><text class="we m" x="665" y="283" font-size="30" textLength="176" lengthAdjust="spacingAndGlyphs">Exhibition Hall</text><text class="n m" x="665" y="363" font-size="95">8</text>
<text class="w m" x="949" y="254" font-size="34" textLength="161" lengthAdjust="spacingAndGlyphs">展示ホール</text><text class="we m" x="949" y="283" font-size="30" textLength="176" lengthAdjust="spacingAndGlyphs">Exhibition Hall</text><text class="n m" x="949" y="363" font-size="95">7</text>
<text class="w m" x="1292" y="254" font-size="34" textLength="161" lengthAdjust="spacingAndGlyphs">展示ホール</text><text class="we m" x="1292" y="283" font-size="30" textLength="176" lengthAdjust="spacingAndGlyphs">Exhibition Hall</text><text class="n m" x="1292" y="363" font-size="95">6</text>
<text class="w m" x="1577" y="254" font-size="34" textLength="161" lengthAdjust="spacingAndGlyphs">展示ホール</text><text class="we m" x="1577" y="283" font-size="30" textLength="176" lengthAdjust="spacingAndGlyphs">Exhibition Hall</text><text class="n m" x="1577" y="363" font-size="95">5</text>
<text class="w m" x="1862" y="254" font-size="34" textLength="161" lengthAdjust="spacingAndGlyphs">展示ホール</text><text class="we m" x="1862" y="283" font-size="30" textLength="176" lengthAdjust="spacingAndGlyphs">Exhibition Hall</text><text class="n m" x="1868" y="363" font-size="95">4</text>
<text class="w m" x="2240" y="254" font-size="34" textLength="161" lengthAdjust="spacingAndGlyphs">展示ホール</text><text class="we m" x="2240" y="283" font-size="30" textLength="176" lengthAdjust="spacingAndGlyphs">Exhibition Hall</text><text class="n m" x="2240" y="363" font-size="95">3</text>
<text class="w m" x="2525" y="254" font-size="34" textLength="161" lengthAdjust="spacingAndGlyphs">展示ホール</text><text class="we m" x="2525" y="283" font-size="30" textLength="176" lengthAdjust="spacingAndGlyphs">Exhibition Hall</text><text class="n m" x="2528" y="363" font-size="95">2</text>
<text class="w m" x="2810" y="254" font-size="34" textLength="161" lengthAdjust="spacingAndGlyphs">展示ホール</text><text class="we m" x="2810" y="283" font-size="30" textLength="176" lengthAdjust="spacingAndGlyphs">Exhibition Hall</text><text class="n m" x="2810" y="363" font-size="95">1</text></g>

<text class="m" fill="#1f5ca6" style="font-weight:300" x="1123" y="181" font-size="34" textLength="221" lengthAdjust="spacingAndGlyphs">いこいのモール</text><text class="e m" x="1123" y="215" font-size="28" textLength="105" lengthAdjust="spacingAndGlyphs">IKOI Mall</text>
<text class="m" fill="#1f5ca6" style="font-weight:300" x="2067" y="181" font-size="34" textLength="252" lengthAdjust="spacingAndGlyphs">やすらぎのモール</text><text class="e m" x="2067" y="215" font-size="28" textLength="185" lengthAdjust="spacingAndGlyphs">YASURAGI Mall</text>

<text class="j" x="254" y="612" font-size="29" textLength="175" lengthAdjust="spacingAndGlyphs">東エントランス</text><text class="e" x="254" y="644" font-size="30" textLength="164" lengthAdjust="spacingAndGlyphs">East Entrance</text>
<text class="j" x="1049" y="710" font-size="29" textLength="241" lengthAdjust="spacingAndGlyphs">ワールドキッチンズ！</text><text class="e" x="1049" y="740" font-size="30" textLength="237" lengthAdjust="spacingAndGlyphs">WORLD KITCHENS !</text>
<text class="j" x="1203" y="826" font-size="29" textLength="181" lengthAdjust="spacingAndGlyphs">エスカレーター</text><text class="e m" x="1293" y="857" font-size="30" textLength="110" lengthAdjust="spacingAndGlyphs">Escalator</text>
<text class="j m" x="1266" y="939" font-size="29" textLength="109" lengthAdjust="spacingAndGlyphs">正面広場</text><text class="e m" x="1267" y="969" font-size="30" textLength="155" lengthAdjust="spacingAndGlyphs">Front square</text>
<text class="j m" x="1588" y="909" font-size="29" textLength="205" lengthAdjust="spacingAndGlyphs">中央エントランス</text><text class="e m" x="1590" y="941" font-size="30" textLength="205" lengthAdjust="spacingAndGlyphs">Central Entrance</text>
<text class="j m" x="1588" y="980" font-size="29" textLength="133" lengthAdjust="spacingAndGlyphs">中央プラザ</text><text class="e m" x="1588" y="1011" font-size="30" textLength="158" lengthAdjust="spacingAndGlyphs">Central Plaza</text>
<text class="j" x="1593" y="1083" font-size="29" textLength="44" lengthAdjust="spacingAndGlyphs">(1F)</text>
<text class="j" x="1250" y="1111" font-size="29" textLength="181" lengthAdjust="spacingAndGlyphs">中央ロータリー</text><text class="e" x="1212" y="1142" font-size="30" textLength="258" lengthAdjust="spacingAndGlyphs">Main Traffic Terminal</text>
<text class="j" x="1033" y="1160" font-size="29" textLength="171" lengthAdjust="spacingAndGlyphs">メッセビジョン</text><text class="e" x="1040" y="1186" font-size="30" textLength="158" lengthAdjust="spacingAndGlyphs">Messe-vision</text>
<text class="j" x="1299" y="1200" font-size="29" textLength="177" lengthAdjust="spacingAndGlyphs">タクシー乗り場</text><text class="e" x="1326" y="1228" font-size="30" textLength="123" lengthAdjust="spacingAndGlyphs">Taxi stand</text>
<text class="j" x="1537" y="1198" font-size="29" textLength="130" lengthAdjust="spacingAndGlyphs">バス乗り場</text><text class="e" x="1551" y="1225" font-size="30" textLength="103" lengthAdjust="spacingAndGlyphs">Bus stop</text>
<text class="j" x="1749" y="1225" font-size="29" textLength="219" lengthAdjust="spacingAndGlyphs">国際展示場連絡橋</text><text class="e" x="1749" y="1252" font-size="30" textLength="251" lengthAdjust="spacingAndGlyphs">Pedestrian Overpass</text>
<text class="j" x="2070" y="1379" font-size="29" textLength="82" lengthAdjust="spacingAndGlyphs">南広場</text><text class="e" x="2070" y="1409" font-size="30" textLength="142" lengthAdjust="spacingAndGlyphs">South Plaza</text>
<text class="j" x="2365" y="1345" font-size="29" textLength="135" lengthAdjust="spacingAndGlyphs">特別会議室</text><text class="e" x="2295" y="1377" font-size="30" textLength="275" lengthAdjust="spacingAndGlyphs">Special Meeting Room</text>
<text class="j" x="2660" y="734" font-size="29" textLength="119" lengthAdjust="spacingAndGlyphs">レストラン</text><text class="e" x="2655" y="764" font-size="30" textLength="131" lengthAdjust="spacingAndGlyphs">Restaurant</text>
<text class="j" x="2076" y="614" font-size="29" textLength="174" lengthAdjust="spacingAndGlyphs">中央モール(2F)</text><text class="e" x="2074" y="645" font-size="30" textLength="179" lengthAdjust="spacingAndGlyphs">Central Mall (2F)</text>
<text class="j" x="2984" y="637" font-size="29" textLength="174" lengthAdjust="spacingAndGlyphs">西エントランス</text><text class="e" x="2984" y="667" font-size="30" textLength="176" lengthAdjust="spacingAndGlyphs">West Entrance</text>
<text class="j" x="3006" y="400" font-size="27" textLength="212" lengthAdjust="spacingAndGlyphs">幕張メッセ駐車場</text><text class="j" x="3006" y="434" font-size="27" textLength="137" lengthAdjust="spacingAndGlyphs">管理事務所</text><text class="e" x="3007" y="464" font-size="29" textLength="131" lengthAdjust="spacingAndGlyphs">Parking lot</text><text class="e" x="3006" y="493" font-size="29" textLength="242" lengthAdjust="spacingAndGlyphs">management office</text>
<text class="j m" x="3205" y="804" font-size="27" textLength="128" lengthAdjust="spacingAndGlyphs">幕張メッセ</text><text class="j m" x="3205" y="837" font-size="27" textLength="80" lengthAdjust="spacingAndGlyphs">駐車場</text><text class="e m" x="3207" y="868" font-size="29" textLength="198" lengthAdjust="spacingAndGlyphs">Makuhari Messe</text><text class="e m" x="3204" y="895" font-size="29" textLength="134" lengthAdjust="spacingAndGlyphs">parking lot</text>
<text class="j m" x="3042" y="974" font-size="27" textLength="128" lengthAdjust="spacingAndGlyphs">幕張メッセ</text><text class="j m" x="3043" y="1007" font-size="27" textLength="164" lengthAdjust="spacingAndGlyphs">駐車場連絡橋</text><text class="e m" x="3043" y="1038" font-size="29" textLength="249" lengthAdjust="spacingAndGlyphs">Pedestrian Overpass</text><text class="e m" x="3040" y="1066" font-size="29" textLength="232" lengthAdjust="spacingAndGlyphs">to Makuhari Messe</text><text class="e m" x="3040" y="1093" font-size="29" textLength="134" lengthAdjust="spacingAndGlyphs">parking lot</text>
<text class="w m" x="3062" y="92" font-size="38">1F</text><text class="w m" x="3062" y="560" font-size="38">2F</text>
<text class="j m" x="2469" y="937" font-size="28" textLength="81" lengthAdjust="spacingAndGlyphs">西広場</text><text class="e m" x="2469" y="968" font-size="29" textLength="131" lengthAdjust="spacingAndGlyphs">West Plaza</text>
<text class="j m" x="2774" y="937" font-size="28" textLength="136" lengthAdjust="spacingAndGlyphs">屋外展示場</text><text class="e m" x="2774" y="968" font-size="29" textLength="318" lengthAdjust="spacingAndGlyphs">Outdoor Exhibition Space</text>
<text class="j" x="2389" y="1085" font-size="54" textLength="432" lengthAdjust="spacingAndGlyphs">幕張イベントホール</text><text class="e m" style="fill:#111" x="2610" y="1133" font-size="36" textLength="298" lengthAdjust="spacingAndGlyphs">Makuhari Event Hall</text>
<text class="j m" x="2410" y="1227" font-size="40">2F</text>
<text class="j m" x="3205" y="1487" font-size="36">1F</text>

<text class="w m" x="355" y="830" font-size="52" textLength="249" lengthAdjust="spacingAndGlyphs">国際会議場</text><text class="we m" x="357" y="877" font-size="36" textLength="396" lengthAdjust="spacingAndGlyphs">International Conference Hall</text>
<text class="j m" x="719" y="787" font-size="24" textLength="28" lengthAdjust="spacingAndGlyphs">203</text><text class="j m" x="758" y="787" font-size="24" textLength="28" lengthAdjust="spacingAndGlyphs">204</text><text class="j m" x="794" y="787" font-size="24" textLength="28" lengthAdjust="spacingAndGlyphs">205</text><text class="j m" x="722" y="839" font-size="28" textLength="38" lengthAdjust="spacingAndGlyphs">202</text><text class="j m" x="661" y="922" font-size="30" textLength="40" lengthAdjust="spacingAndGlyphs">201</text>
<text class="j m" x="1021" y="839" font-size="24" textLength="169" lengthAdjust="spacingAndGlyphs">コンベンション</text><text class="j m" x="1021" y="864" font-size="24" textLength="94" lengthAdjust="spacingAndGlyphs">ホールA</text><text class="e m" x="1021" y="891" font-size="27" textLength="143" lengthAdjust="spacingAndGlyphs">Convention</text><text class="e m" x="1021" y="915" font-size="27" textLength="70" lengthAdjust="spacingAndGlyphs">Hall A</text>
<text class="j m" x="1021" y="952" font-size="24" textLength="169" lengthAdjust="spacingAndGlyphs">コンベンション</text><text class="j m" x="1021" y="980" font-size="24" textLength="94" lengthAdjust="spacingAndGlyphs">ホールB</text><text class="e m" x="1021" y="1005" font-size="27" textLength="143" lengthAdjust="spacingAndGlyphs">Convention</text><text class="e m" x="1021" y="1028" font-size="27" textLength="70" lengthAdjust="spacingAndGlyphs">Hall B</text>
<text class="j m" x="639" y="1037" font-size="27" textLength="122" lengthAdjust="spacingAndGlyphs">国際会議室</text><text class="e m" x="639" y="1069" font-size="29" textLength="141" lengthAdjust="spacingAndGlyphs">International</text><text class="e m" x="639" y="1096" font-size="29" textLength="128" lengthAdjust="spacingAndGlyphs">Conference</text><text class="e m" x="639" y="1124" font-size="29" textLength="63" lengthAdjust="spacingAndGlyphs">Room</text>
<text class="j" x="967" y="1117" font-size="30" textLength="111" lengthAdjust="spacingAndGlyphs">213 - 216</text>
<text class="w m" x="622" y="1183" font-size="42">2F</text><text class="w m" x="622" y="1425" font-size="42">3F</text><text class="w m" x="625" y="2080" font-size="42">1F</text>
<text class="j m" x="982" y="1568" font-size="30">302</text><text class="j m" x="982" y="1673" font-size="30">303</text><text class="j m" x="829" y="1623" font-size="30">301</text><text class="j m" x="831" y="1744" font-size="30">304</text>
<text class="j m" x="974" y="2300" font-size="30">101</text><text class="j m" x="1038" y="2275" font-size="30">102</text><text class="j m" x="1147" y="2244" font-size="30">105</text><text class="j m" x="1147" y="2295" font-size="30">104</text><text class="j m" x="1147" y="2347" font-size="30">103</text>
<text class="j" x="600" y="2241" font-size="29" textLength="277" lengthAdjust="spacingAndGlyphs">(株)幕張メッセオフィス</text><text class="e" x="573" y="2270" font-size="30" textLength="327" lengthAdjust="spacingAndGlyphs">Makuhari Messe Inc. Office</text>
<text class="j" x="645" y="2345" font-size="29" textLength="228" lengthAdjust="spacingAndGlyphs">エントランスロビー</text><text class="e" x="663" y="2374" font-size="30" textLength="192" lengthAdjust="spacingAndGlyphs">Entrance Lobby</text>
<text class="j" x="600" y="2401" font-size="29" textLength="52" lengthAdjust="spacingAndGlyphs">入口</text><text class="e" x="573" y="2429" font-size="30" textLength="106" lengthAdjust="spacingAndGlyphs">Entrance</text>
<text class="j" x="695" y="2522" font-size="29" textLength="51" lengthAdjust="spacingAndGlyphs">入口</text><text class="e" x="667" y="2549" font-size="30" textLength="108" lengthAdjust="spacingAndGlyphs">Entrance</text>
<text class="j" x="935" y="2486" font-size="29" textLength="103" lengthAdjust="spacingAndGlyphs">ラウンジ</text><text class="e" x="940" y="2514" font-size="30" textLength="94" lengthAdjust="spacingAndGlyphs">Lounge</text>
<text class="w m" x="593" y="2681" font-size="28" textLength="191" lengthAdjust="spacingAndGlyphs">海浜幕張駅方面</text><text class="we m" x="593" y="2705" font-size="26" textLength="320" lengthAdjust="spacingAndGlyphs">To JR Kaihimmakuhari station</text>

<text class="j m" x="1510" y="1829" font-size="29" textLength="155" lengthAdjust="spacingAndGlyphs">メッセモール</text><text class="e m" x="1508" y="1858" font-size="30" textLength="132" lengthAdjust="spacingAndGlyphs">Messe Mall</text>
<text class="j m" x="1648" y="2049" font-size="29" textLength="153" lengthAdjust="spacingAndGlyphs">メッセモール</text><text class="j m" x="1646" y="2082" font-size="29" textLength="183" lengthAdjust="spacingAndGlyphs">中央連絡デッキ</text><text class="e m" x="1646" y="2113" font-size="30" textLength="132" lengthAdjust="spacingAndGlyphs">Messe Mall</text><text class="e m" x="1647" y="2142" font-size="30" textLength="176" lengthAdjust="spacingAndGlyphs">Central Bridge</text>
<text class="j" x="1765" y="2061" font-size="29" textLength="231" lengthAdjust="spacingAndGlyphs">エスプラナード(2F)</text><text class="e" x="1794" y="2093" font-size="30" textLength="178" lengthAdjust="spacingAndGlyphs">Esplanade (2F)</text>
<text class="j m" x="1671" y="2634" font-size="29" textLength="156" lengthAdjust="spacingAndGlyphs">メッセモール</text><text class="j m" x="1669" y="2667" font-size="29" textLength="156" lengthAdjust="spacingAndGlyphs">北連絡デッキ</text><text class="e m" x="1670" y="2698" font-size="30" textLength="133" lengthAdjust="spacingAndGlyphs">Messe Mall</text><text class="e m" x="1670" y="2727" font-size="30" textLength="158" lengthAdjust="spacingAndGlyphs">North Bridge</text>
<text class="w m" x="1889" y="2603" font-size="42">2F</text><text class="w m" x="2359" y="2603" font-size="42">1F</text>
<text class="j m" x="2182" y="2593" font-size="29" textLength="80" lengthAdjust="spacingAndGlyphs">北広場</text><text class="e m" x="2182" y="2620" font-size="30" textLength="140" lengthAdjust="spacingAndGlyphs">North Plaza</text>
<text class="w m" x="2199" y="1707" font-size="34" textLength="161" lengthAdjust="spacingAndGlyphs">展示ホール</text><text class="we m" x="2199" y="1738" font-size="30" textLength="177" lengthAdjust="spacingAndGlyphs">Exhibition Hall</text><text class="n m" x="2200" y="1821" font-size="95">9</text>
<text class="w m" x="2199" y="2088" font-size="34" textLength="161" lengthAdjust="spacingAndGlyphs">展示ホール</text><text class="we m" x="2199" y="2119" font-size="30" textLength="177" lengthAdjust="spacingAndGlyphs">Exhibition Hall</text><text class="n m" x="2203" y="2203" font-size="95">10</text>
<text class="w m" x="2199" y="2357" font-size="34" textLength="161" lengthAdjust="spacingAndGlyphs">展示ホール</text><text class="we m" x="2199" y="2388" font-size="30" textLength="177" lengthAdjust="spacingAndGlyphs">Exhibition Hall</text><text class="n m" x="2203" y="2471" font-size="95">11</text>
<text class="w" x="2528" y="2395" font-size="50" textLength="633" lengthAdjust="spacingAndGlyphs">国際展示場 展示ホール9〜11</text><text class="we m" x="2847" y="2442" font-size="33" textLength="491" lengthAdjust="spacingAndGlyphs">International Exhibition Hall 9-11</text>
<text class="j m" x="2963" y="1759" font-size="26" textLength="99" lengthAdjust="spacingAndGlyphs">アリーナ</text><text class="e m" x="2963" y="1785" font-size="25" textLength="71" lengthAdjust="spacingAndGlyphs">Arena</text>
<text class="j" x="2492" y="1843" font-size="26" textLength="133" lengthAdjust="spacingAndGlyphs">階段(2Fへ)</text><text class="e" x="2492" y="1875" font-size="27" textLength="99" lengthAdjust="spacingAndGlyphs">Stairs to</text><text class="e" x="2492" y="1902" font-size="27" textLength="156" lengthAdjust="spacingAndGlyphs">Second floor</text>
<text class="j" x="2581" y="1971" font-size="26" textLength="113" lengthAdjust="spacingAndGlyphs">1F ロビー</text><text class="e" x="2581" y="2002" font-size="27" textLength="76" lengthAdjust="spacingAndGlyphs">Lobby</text>
</g>

<g id="legend">
<use href="#in" x="3389" y="36" width="84" height="85"/><use href="#lk" x="3389" y="161" width="84" height="85"/><use href="#at" x="3389" y="286" width="84" height="85"/><use href="#ch" x="3389" y="411" width="84" height="85"/><use href="#wc" x="3389" y="536" width="84" height="85"/><use href="#bf" x="3389" y="661" width="84" height="85"/><use href="#os" x="3389" y="786" width="84" height="85"/><use href="#bb" x="3389" y="911" width="84" height="85"/><use href="#bp" x="3389" y="1036" width="84" height="85"/><use href="#nr" x="3389" y="1161" width="84" height="85"/><use href="#ae" x="3389" y="1286" width="84" height="85"/>
<use href="#wf" x="3389" y="1412" width="84" height="82"/><use href="#pv" x="3389" y="1535" width="84" height="84"/><use href="#bt" x="3389" y="1660" width="84" height="83"/><use href="#cp" x="3389" y="1787" width="84" height="83"/><use href="#ph" x="3389" y="1912" width="84" height="83"/><use href="#el" class="g" x="3389" y="2038" width="84" height="83"/><use href="#bk" x="3389" y="2163" width="84" height="83"/><use href="#rs" x="3389" y="2288" width="84" height="83"/><use href="#cv" x="3389" y="2412" width="84" height="83"/><use href="#sm" x="3389" y="2537" width="84" height="83"/>
<g font-size="44"><text class="j" x="3493" y="76" textLength="372" lengthAdjust="spacingAndGlyphs">インフォメーション</text><text class="j" x="3493" y="201" textLength="298" lengthAdjust="spacingAndGlyphs">コインロッカー</text><text class="j" x="3492" y="326" textLength="90" lengthAdjust="spacingAndGlyphs">ATM</text><text class="j" x="3495" y="451" textLength="136" lengthAdjust="spacingAndGlyphs">両替機</text><text class="j" x="3496" y="576" textLength="114" lengthAdjust="spacingAndGlyphs">トイレ</text><text class="j" x="3490" y="701" textLength="373" lengthAdjust="spacingAndGlyphs">バリアフリートイレ</text><text class="j" x="3492" y="826" textLength="241" lengthAdjust="spacingAndGlyphs">オストメイト</text><text class="j" x="3492" y="951" textLength="257" lengthAdjust="spacingAndGlyphs">ベビーシート</text><text class="j" x="3493" y="1076" textLength="522" lengthAdjust="spacingAndGlyphs">女子トイレ内ベビーシート</text><text class="j" x="3494" y="1201" textLength="135" lengthAdjust="spacingAndGlyphs">授乳室</text><text class="j" x="3493" y="1326" textLength="84" lengthAdjust="spacingAndGlyphs">AED</text>
<text class="j" x="3492" y="1451" textLength="101" lengthAdjust="spacingAndGlyphs">Wi-Fi</text><text class="j" x="3496" y="1574" textLength="431" lengthAdjust="spacingAndGlyphs">個人型ワークボックス</text><text class="j" x="3494" y="1698" textLength="558" lengthAdjust="spacingAndGlyphs">モバイルバッテリースタンド</text><text class="j" x="3496" y="1826" textLength="258" lengthAdjust="spacingAndGlyphs">コインコピー</text><text class="j" x="3492" y="1954" textLength="183" lengthAdjust="spacingAndGlyphs">公衆電話</text><text class="j" x="3495" y="2079" textLength="263" lengthAdjust="spacingAndGlyphs">エレベーター</text><text class="j" x="3493" y="2204" textLength="137" lengthAdjust="spacingAndGlyphs">駐輪場</text><text class="j" x="3496" y="2329" textLength="348" lengthAdjust="spacingAndGlyphs">レストラン・カフェ</text><text class="j" x="3494" y="2452" textLength="431" lengthAdjust="spacingAndGlyphs">コンビニエンスストア</text><text class="j" x="3497" y="2579" textLength="137" lengthAdjust="spacingAndGlyphs">喫煙所</text></g>
<g font-size="44"><text class="e" x="3492" y="123" textLength="313" lengthAdjust="spacingAndGlyphs">Information Desk</text><text class="e" x="3492" y="248" textLength="410" lengthAdjust="spacingAndGlyphs">Coin-operated Lockers</text><text class="e" x="3492" y="373" textLength="252" lengthAdjust="spacingAndGlyphs">Cash Machine</text><text class="e" x="3494" y="498" textLength="304" lengthAdjust="spacingAndGlyphs">Change Machine</text><text class="e" x="3493" y="623" textLength="170" lengthAdjust="spacingAndGlyphs">Restroom</text><text class="e" x="3491" y="748" textLength="383" lengthAdjust="spacingAndGlyphs">Barrier-free Restroom</text><text class="e" x="3492" y="873" textLength="324" lengthAdjust="spacingAndGlyphs">Ostomy Restroom</text><text class="e" x="3493" y="998" textLength="443" lengthAdjust="spacingAndGlyphs">Diaper-changing Station</text><text class="e" x="3495" y="1123" textLength="442" lengthAdjust="spacingAndGlyphs">Diaper-changing Station</text><text class="e" x="3495" y="1248" textLength="246" lengthAdjust="spacingAndGlyphs">Nursing room</text><text class="e" x="3493" y="1373" font-size="40" textLength="592" lengthAdjust="spacingAndGlyphs">Automated External Defibrillator</text>
<text class="e" x="3493" y="1497" textLength="178" lengthAdjust="spacingAndGlyphs">Free Wi-Fi</text><text class="e" x="3495" y="1617" textLength="212" lengthAdjust="spacingAndGlyphs">Work Space</text><text class="e" x="3492" y="1746" font-size="36" textLength="399" lengthAdjust="spacingAndGlyphs">Mobile Battery Rental Station</text><text class="e" x="3493" y="1872" textLength="534" lengthAdjust="spacingAndGlyphs">Coin-operated Copy Machine</text><text class="e" x="3493" y="1997" textLength="236" lengthAdjust="spacingAndGlyphs">Public Phone</text><text class="e" x="3493" y="2124" textLength="146" lengthAdjust="spacingAndGlyphs">Elevator</text><text class="e" x="3494" y="2249" textLength="268" lengthAdjust="spacingAndGlyphs">Bicycle Parking</text><text class="e" x="3494" y="2374" textLength="292" lengthAdjust="spacingAndGlyphs">Restaurant, Cafe</text><text class="e" x="3492" y="2494" textLength="343" lengthAdjust="spacingAndGlyphs">Convenience Store</text><text class="e" x="3495" y="2623" textLength="251" lengthAdjust="spacingAndGlyphs">Smoking Area</text></g>
</g>
</svg>
